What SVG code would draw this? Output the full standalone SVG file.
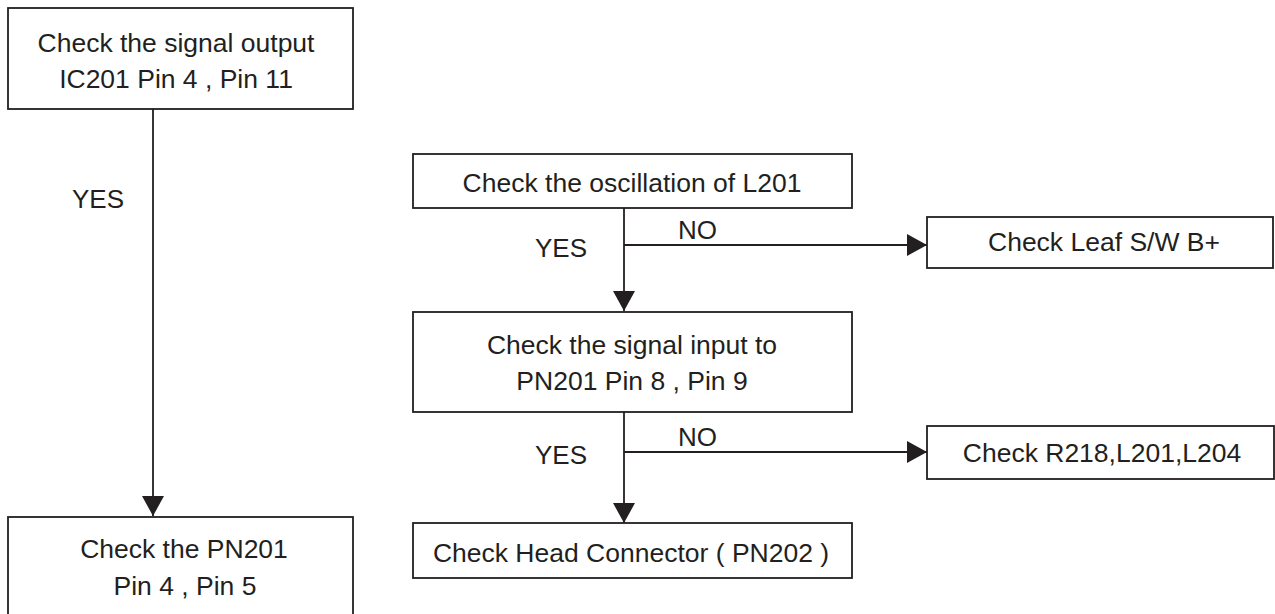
<svg xmlns="http://www.w3.org/2000/svg" width="1275" height="614" viewBox="0 0 1275 614">
<style>
.box{fill:#fff;stroke:#231f20;stroke-width:1.8}
.t{font-family:"Liberation Sans",Arial,sans-serif;font-size:26.5px;fill:#231f20;text-anchor:middle}
.l{font-family:"Liberation Sans",Arial,sans-serif;font-size:26px;fill:#231f20}
.c{stroke:#231f20;stroke-width:1.8;fill:none}
</style>
<defs>
<marker id="ah" markerUnits="userSpaceOnUse" markerWidth="20" markerHeight="22" refX="20" refY="11" orient="auto" viewBox="0 0 20 22">
<path d="M0,0 L20,11 L0,22 z" fill="#231f20"/>
</marker>
</defs>
<rect width="1275" height="614" fill="#fff"/>
<g id="connectors">
<line class="c" x1="153" y1="109" x2="153" y2="516" marker-end="url(#ah)"/>
<line class="c" x1="624" y1="208" x2="624" y2="311" marker-end="url(#ah)"/>
<line class="c" x1="624" y1="245" x2="927" y2="245" marker-end="url(#ah)"/>
<line class="c" x1="624" y1="412" x2="624" y2="523" marker-end="url(#ah)"/>
<line class="c" x1="624" y1="452" x2="927" y2="452" marker-end="url(#ah)"/>
<text class="l" x="72" y="208">YES</text>
<text class="l" x="535" y="257">YES</text>
<text class="l" x="678" y="239">NO</text>
<text class="l" x="535" y="464">YES</text>
<text class="l" x="678" y="446">NO</text>
</g>
<g id="n1">
<rect class="box" x="8" y="8" width="345" height="101"/>
<text class="t" x="176" y="52">Check the signal output</text>
<text class="t" x="176" y="88">IC201 Pin 4 , Pin 11</text>
</g>
<g id="n2">
<rect class="box" x="413" y="154" width="439" height="54"/>
<text class="t" x="632" y="192">Check the oscillation of L201</text>
</g>
<g id="n3">
<rect class="box" x="927" y="217" width="346" height="51"/>
<text class="t" x="1104" y="251">Check Leaf S/W B+</text>
</g>
<g id="n4">
<rect class="box" x="413" y="312" width="439" height="100"/>
<text class="t" x="632" y="354">Check the signal input to</text>
<text class="t" x="632" y="390">PN201 Pin 8 , Pin 9</text>
</g>
<g id="n5">
<rect class="box" x="927" y="426" width="347" height="53"/>
<text class="t" x="1102" y="462">Check R218,L201,L204</text>
</g>
<g id="n6">
<rect class="box" x="413" y="523" width="439" height="55"/>
<text class="t" x="631" y="562">Check Head Connector ( PN202 )</text>
</g>
<g id="n7">
<rect class="box" x="8" y="517" width="345" height="110"/>
<text class="t" x="184" y="558">Check the PN201</text>
<text class="t" x="185" y="595">Pin 4 , Pin 5</text>
</g>
</svg>
